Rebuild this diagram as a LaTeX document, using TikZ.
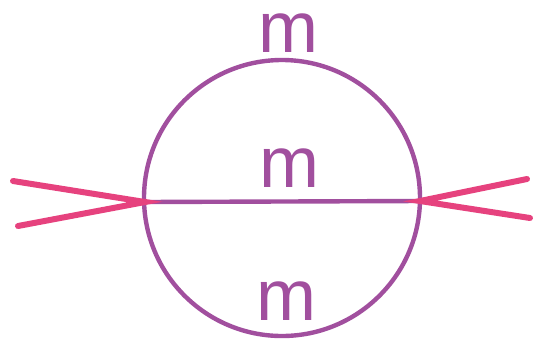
\documentclass[tikz,border=0pt]{standalone}
\usepackage{fontspec}
\setmainfont{Liberation Sans}
\usetikzlibrary{positioning}

\definecolor{propcol}{HTML}{A14F9E}
\definecolor{legcol}{HTML}{E6427E}

\begin{document}
\begin{tikzpicture}[
  x=0.5pt, y=-0.5pt,
  prop/.style={draw=propcol, line width=2.2pt},
  leg/.style={draw=legcol, line width=3pt, line cap=round},
  mass/.style={text=propcol, font=\fontsize{36}{36}\selectfont, inner sep=0pt}
]
\useasboundingbox (0,0) rectangle (536,344);

% vertices and external ends
\coordinate (c)  at (282,198);
\coordinate (vl) at (145,202);
\coordinate (vr) at (420,201);
\coordinate (l1) at (13,181);
\coordinate (l2) at (18,226);
\coordinate (r1) at (527,179);
\coordinate (r2) at (530,218);

% sunset propagators
\draw[prop] (c) circle[radius=138];
\draw[prop] (vl) -- (vr);

% external legs
\draw[leg] (l1) -- (vl) -- (l2);
\draw[leg] (r1) -- (vr) -- (r2);

% masses
\node[mass] (mtop) at (288,33)  {m};
\node[mass] (mmid) at (289,168) {m};
\node[mass] (mbot) at (286,301) {m};

\end{tikzpicture}
\end{document}
